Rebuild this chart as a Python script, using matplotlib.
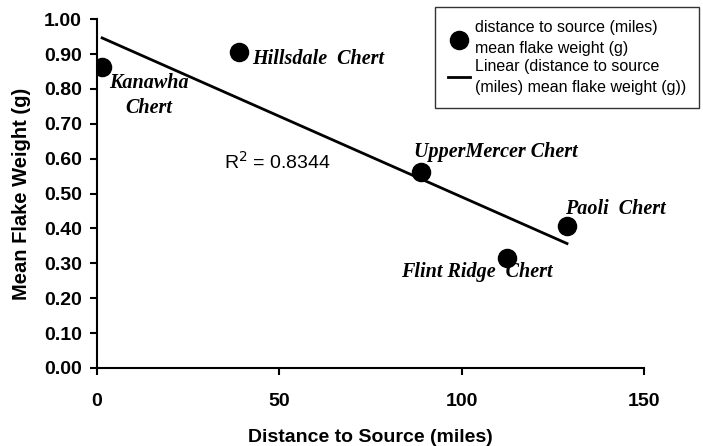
import numpy as np
import matplotlib
matplotlib.use("Agg")
import matplotlib.pyplot as plt

# data
distance = [1.4, 38.9, 88.8, 112.4, 128.9]
weight = [0.862, 0.905, 0.562, 0.315, 0.407]
names = ["Kanawha\nChert", "Hillsdale  Chert", "UpperMercer Chert", "Flint Ridge  Chert", "Paoli  Chert"]
r2_text = "R$^2$ = 0.8344"

# label offsets in pixels from each point, with alignment
offsets = [(47, -28, "center"), (13, -7, "left"), (-7, 20, "left"), (-106, -14, "left"), (-2, 17, "left")]

plt.rcParams["font.family"] = ["Liberation Sans", "DejaVu Sans"]

fig = plt.figure(figsize=(7.03, 4.46), dpi=100)
ax = fig.add_axes([0.138, 0.175, 0.778, 0.782])

# linear trend over the data range
slope, intercept = np.polyfit(distance, weight, 1)
xs = np.array([min(distance), max(distance)])
ax.scatter(distance, weight, s=170, color="black", zorder=3,
           label="distance to source (miles)\nmean flake weight (g)")
ax.plot(xs, slope * xs + intercept, color="black", lw=2,
        label="Linear (distance to source\n(miles) mean flake weight (g))", zorder=2)

for x, y, name, (dx, dy, ha) in zip(distance, weight, names, offsets):
    ax.annotate(name, (x, y), xytext=(dx, dy), textcoords="offset pixels",
                ha=ha, va="center", fontsize=14.5, fontweight="bold", fontstyle="italic",
                family="Liberation Serif", linespacing=1.3, annotation_clip=False)

ax.text(34.8, 0.59, r2_text, fontsize=14, ha="left", va="center")

ax.set_xlim(0, 150)
ax.set_ylim(0, 1.0)
ax.set_xticks([0, 50, 100, 150])
ax.set_yticks(np.arange(0, 1.01, 0.1))
ax.set_yticklabels([f"{v:.2f}" for v in np.arange(0, 1.01, 0.1)])
for lab in ax.get_xticklabels() + ax.get_yticklabels():
    lab.set_fontweight("bold")
    lab.set_fontsize(14)
ax.tick_params(axis="x", direction="out", length=5, width=1.5, pad=13)
ax.tick_params(axis="y", direction="out", length=5, width=1.5, pad=6)
ax.spines["top"].set_visible(False)
ax.spines["right"].set_visible(False)
ax.spines["left"].set_linewidth(1.5)
ax.spines["bottom"].set_linewidth(1.5)

ax.set_xlabel("Distance to Source (miles)", fontsize=14, fontweight="bold", labelpad=14)
ax.set_ylabel("Mean Flake Weight (g)", fontsize=14.5, fontweight="bold", labelpad=9)

leg = fig.legend(loc="upper left", bbox_to_anchor=(435 / 703, 1 - 7 / 446), fontsize=11.5,
                 frameon=True, fancybox=False, edgecolor="black", borderpad=0.8,
                 handlelength=1.4, handletextpad=0.3, labelspacing=0.2, borderaxespad=0)
leg.get_frame().set_linewidth(1.0)
for t in leg.get_texts():
    t.set_linespacing(1.5)

fig.savefig("out.png", dpi=100)
